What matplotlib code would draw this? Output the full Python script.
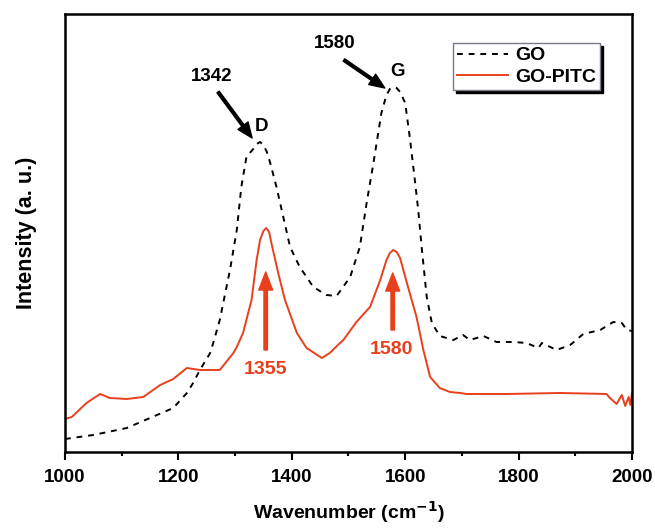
import matplotlib
matplotlib.use("Agg")
import matplotlib.pyplot as plt
import numpy as np

plt.rcParams["font.family"] = ["Liberation Sans", "DejaVu Sans"]
plt.rcParams["font.weight"] = "bold"

# GO spectrum (wavenumber, intensity in a.u.)
go_wn = [1000, 1050, 1109, 1150, 1191, 1215, 1226, 1238, 1256, 1262, 1273, 1291,
         1303, 1311, 1320, 1332, 1338, 1344, 1350, 1356, 1362, 1373, 1385, 1397,
         1414, 1438, 1461, 1479, 1503, 1520, 1532, 1544, 1558, 1567, 1573, 1579,
         1585, 1591, 1600, 1608, 1617, 1623, 1629, 1638, 1647, 1661, 1685, 1702,
         1714, 1738, 1761, 1791, 1814, 1835, 1841, 1867, 1891, 1914, 1944, 1967,
         1982, 1991, 2000]
go_int = [13, 17, 24, 34, 44, 59, 69, 82, 99, 110, 132, 182,
          222, 265, 295, 303, 308, 310, 307, 300, 289, 265, 235, 205,
          185, 165, 157, 156, 175, 205, 249, 289, 339, 357, 363, 365,
          364, 360, 349, 315, 272, 242, 205, 155, 129, 116, 112, 117,
          112, 116, 110, 110, 109, 104, 109, 102, 107, 118, 122, 130,
          129, 122, 121]

# GO-PITC spectrum
pitc_wn = [1000, 1012, 1038, 1062, 1079, 1109, 1138, 1168, 1191, 1215, 1238, 1273,
           1297, 1303, 1314, 1329, 1338, 1344, 1350, 1355, 1360, 1364, 1376, 1388,
           1409, 1426, 1453, 1467, 1485, 1491, 1514, 1538, 1556, 1567, 1573, 1579,
           1585, 1591, 1603, 1620, 1632, 1644, 1661, 1679, 1697, 1708, 1779, 1873,
           1955, 1961, 1973, 1982, 1988, 1994, 1997, 2000]
pitc_int = [33, 35, 49, 58, 54, 53, 55, 67, 73, 84, 82, 82,
            99, 105, 119, 152, 192, 212, 221, 224, 220, 209, 179, 152,
            119, 104, 94, 99, 109, 112, 130, 145, 172, 192, 199, 202,
            200, 194, 169, 135, 102, 75, 64, 60, 59, 58, 58, 59,
            58, 54, 48, 57, 46, 55, 47, 59]

red = "#e8401c"

fig = plt.figure(figsize=(6.55, 5.32), dpi=100)
ax = fig.add_axes([0.0992, 0.1504, 0.8657, 0.8233])

ax.plot(go_wn, go_int, color="black", lw=1.4, ls=(0, (3, 3)), label="GO")
ax.plot(pitc_wn, pitc_int, color=red, lw=1.4, label="GO-PITC")

ax.set_xlim(1000, 2000)
ax.set_ylim(0, 438)
ax.set_xticks(np.arange(1000, 2001, 200))
ax.set_xticks(np.arange(1100, 2000, 200), minor=True)
ax.set_yticks([])
ax.tick_params(axis="x", which="major", direction="out", length=6, width=1.5,
               labelsize=13.5, pad=6)
ax.tick_params(axis="x", which="minor", direction="out", length=3, width=1.5)
for s in ax.spines.values():
    s.set_linewidth(1.8)

ax.set_xlabel("Wavenumber (cm$^{\\mathbf{-1}}$)", fontsize=14, fontweight="bold", labelpad=10)
ax.set_ylabel("Intensity (a. u.)", fontsize=15.5, fontweight="bold", labelpad=20)

# black annotations for the GO peaks
arrow_k = dict(facecolor="black", edgecolor="black", width=2, headwidth=9,
               headlength=11, shrink=0)
ax.annotate("", xy=(1330, 314), xytext=(1270, 360), arrowprops=arrow_k)
ax.text(1259, 375, "1342", ha="center", va="center", fontsize=13.5, fontweight="bold")
ax.text(1347, 325, "D", ha="center", va="center", fontsize=13.5, fontweight="bold")
ax.annotate("", xy=(1564, 364), xytext=(1492, 392), arrowprops=arrow_k)
ax.text(1476, 408, "1580", ha="center", va="center", fontsize=13.5, fontweight="bold")
ax.text(1586, 380, "G", ha="center", va="center", fontsize=13.5, fontweight="bold")

# red annotations for GO-PITC
arrow_r = dict(facecolor=red, edgecolor=red, width=2.5, headwidth=10,
               headlength=13, shrink=0)
ax.annotate("", xy=(1354, 180), xytext=(1354, 102), arrowprops=arrow_r)
ax.text(1353, 82, "1355", ha="center", va="center", fontsize=14,
        fontweight="bold", color=red)
ax.annotate("", xy=(1578, 179), xytext=(1578, 122), arrowprops=arrow_r)
ax.text(1575, 102, "1580", ha="center", va="center", fontsize=14,
        fontweight="bold", color=red)

leg = ax.legend(loc="upper right", bbox_to_anchor=(0.944, 0.934), borderaxespad=0,
                fancybox=False, shadow={"color": "black", "alpha": 1},
                edgecolor="#7a7a8a", framealpha=1, fontsize=14, handlelength=2.6,
                handletextpad=0.4, borderpad=0.2, labelspacing=0.2)
leg.get_frame().set_linewidth(1.0)
for t in leg.get_texts():
    t.set_fontweight("bold")

fig.savefig("out.png", dpi=100)
